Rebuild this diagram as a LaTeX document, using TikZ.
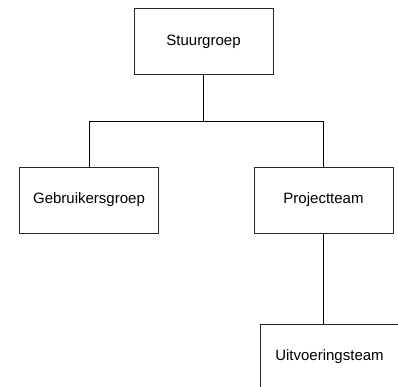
\documentclass[tikz,border=0pt]{standalone}
\usepackage{fontspec}
\setmainfont{Liberation Sans}
\begin{document}
\begin{tikzpicture}[x=1pt,y=-1pt,
  orgbox/.style={draw=black!85, line width=0.8pt, minimum width=139pt, minimum height=66pt, inner sep=0pt, font=\fontsize{15}{18}\selectfont},
  conn/.style={draw=black, line width=0.8pt}]
\useasboundingbox (0,0) rectangle (398,387);
\clip (0,0) rectangle (398,387);
\node[orgbox] (s) at (203.5,41.5) {Stuurgroep};
\node[orgbox] (g) at (89,200) {Gebruikersgroep};
\node[orgbox] (p) at (323.5,200) {Projectteam};
\node[orgbox] (u) at (329.5,357) {Uitvoeringsteam};
\coordinate (j) at (203.5,121.7);
\draw[conn] (s.south) -- (j);
\draw[conn] (g.north) |- (j) -| (p.north);
\draw[conn] (p.south) -- (p.south |- u.north);
\end{tikzpicture}
\end{document}
